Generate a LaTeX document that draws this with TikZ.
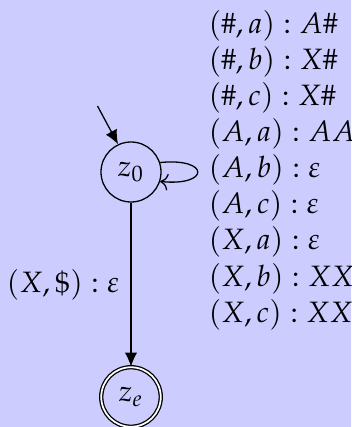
\documentclass[tikz,border=0pt]{standalone}
\usepackage{mathpazo}
\usetikzlibrary{arrows.meta}
\definecolor{bgc}{RGB}{204,204,255}
\begin{document}
\begin{tikzpicture}[x=0.3125pt,y=-0.3125pt,
  every node/.style={font=\fontsize{9.2pt}{11pt}\selectfont},
  state/.style={circle,draw,minimum size=18.75pt,inner sep=0pt},
  final/.style={state,double,double distance=0.55pt,minimum size=18.6pt},
  bigtip/.style={-{Latex[length=4.4pt,width=3.9pt]}},
  rlabel/.style={anchor=base west,inner sep=0pt}]
\fill[bgc] (0,0) rectangle (351,427);
\useasboundingbox (0,0) rectangle (351,427);
\node[state] (z0) at (131,172) {$z_0$};
\node[final] (ze) at (131,397) {$z_e$};
\coordinate (start) at (97.5,106);
\draw[bigtip] (start) -- (z0.115);
\draw[bigtip] (z0) -- node[anchor=east,inner sep=0pt,xshift=-3.5pt] (lab) {$(X,\$) : \varepsilon$} (ze);
\draw[->] (z0.18) .. controls +(50,-5) and +(50,5) .. (z0.-18);
\node[rlabel] (l1) at (208,33.7) {$(\#,a) : A\#$};
\node[rlabel] (l2) at (208,69.7) {$(\#,b) : X\#$};
\node[rlabel] (l3) at (208,105.8) {$(\#,c) : X\#$};
\node[rlabel] (l4) at (208,141.8) {$(A,a) : AA$};
\node[rlabel] (l5) at (208,177.8) {$(A,b) : \varepsilon$};
\node[rlabel] (l6) at (208,213.9) {$(A,c) : \varepsilon$};
\node[rlabel] (l7) at (208,249.9) {$(X,a) : \varepsilon$};
\node[rlabel] (l8) at (208,286.0) {$(X,b) : XX$};
\node[rlabel] (l9) at (208,322.0) {$(X,c) : XX$};
\end{tikzpicture}
\end{document}
